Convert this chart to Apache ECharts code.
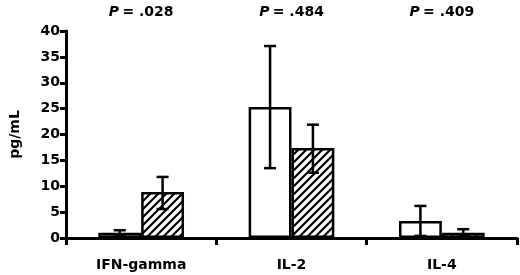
<!DOCTYPE html>
<html>
<head>
<meta charset="utf-8">
<script src="https://cdn.jsdelivr.net/npm/echarts@6/dist/echarts.min.js"></script>
<style>
  html, body { margin: 0; padding: 0; background: #fff; }
  #chart { width: 520px; height: 275px; }
</style>
</head>
<body>
<div id="chart"></div>
<script>
// cytokine levels, two groups per cytokine
var categories = ['IFN-gamma', 'IL-2', 'IL-4'];
var pLabels = ['.028', '.484', '.409'];
var yTicks = [0, 5, 10, 15, 20, 25, 30, 35, 40];

var openMean = [1.0, 25.3, 3.3];
var openLow = [0.5, 13.5, 0.4];
var openHigh = [1.5, 37.1, 6.2];

var hatchMean = [8.9, 17.4, 1.0];
var hatchLow = [5.6, 12.6, 0.3];
var hatchHigh = [11.8, 21.9, 1.7];

var FONT = '"DejaVu Sans", sans-serif';
var BAR_FRAC = 0.285;

// diagonal hatch fill
function makeHatch() {
  var c = document.createElement('canvas');
  c.width = 8; c.height = 8;
  var g = c.getContext('2d');
  g.fillStyle = '#fff';
  g.fillRect(0, 0, 8, 8);
  g.strokeStyle = '#000';
  g.lineWidth = 2.2;
  g.beginPath();
  g.moveTo(-1, 9); g.lineTo(9, -1);
  g.moveTo(-5, 5); g.lineTo(5, -5);
  g.moveTo(3, 13); g.lineTo(13, 3);
  g.stroke();
  return c;
}

function errorSeries(low, high, side) {
  var data = categories.map(function (c, i) { return [i, low[i], high[i]]; });
  return {
    type: 'custom',
    xAxisIndex: 0,
    z: 5,
    data: data,
    renderItem: function (params, api) {
      var band = api.size([1, 0])[0];
      var off = side * band * BAR_FRAC / 2;
      var top = api.coord([api.value(0), api.value(2)]);
      var bot = api.coord([api.value(0), api.value(1)]);
      var x = top[0] + off;
      var cap = 6;
      var st = { stroke: '#000', lineWidth: 2.5 };
      return {
        type: 'group',
        children: [
          { type: 'line', shape: { x1: x, y1: top[1], x2: x, y2: bot[1] }, style: st },
          { type: 'line', shape: { x1: x - cap, y1: top[1], x2: x + cap, y2: top[1] }, style: st },
          { type: 'line', shape: { x1: x - cap, y1: bot[1], x2: x + cap, y2: bot[1] }, style: st }
        ]
      };
    }
  };
}

var chart = echarts.init(document.getElementById('chart'));
chart.setOption({
  animation: false,
  grid: { left: 64, right: 3, top: 31, bottom: 37 },
  xAxis: [{
    type: 'category',
    data: categories,
    axisLine: { lineStyle: { color: '#000', width: 3 } },
    axisTick: { show: true, length: 7, lineStyle: { color: '#000', width: 3 } },
    axisLabel: { color: '#000', fontFamily: FONT, fontWeight: 'bold', fontSize: 14, margin: 20 }
  }, {
    type: 'category',
    position: 'top',
    data: pLabels,
    axisLine: { show: false },
    axisTick: { show: false },
    axisLabel: {
      margin: 12,
      formatter: function (v) { return '{p|P} {n|= ' + v + '}'; },
      rich: {
        p: { color: '#000', fontFamily: FONT, fontWeight: 'bold', fontStyle: 'italic', fontSize: 14 },
        n: { color: '#000', fontFamily: FONT, fontWeight: 'bold', fontSize: 14 }
      }
    }
  }],
  yAxis: {
    type: 'value',
    min: yTicks[0],
    max: yTicks[yTicks.length - 1],
    interval: 5,
    name: 'pg/mL',
    nameLocation: 'middle',
    nameGap: 44,
    nameTextStyle: { color: '#000', fontFamily: FONT, fontWeight: 'bold', fontSize: 14 },
    axisLine: { show: true, lineStyle: { color: '#000', width: 3 } },
    axisTick: { show: true, length: 6, lineStyle: { color: '#000', width: 3 } },
    axisLabel: { color: '#000', fontFamily: FONT, fontWeight: 'bold', fontSize: 14, margin: 6 },
    splitLine: { show: false }
  },
  series: [{
    type: 'bar',
    data: openMean,
    barWidth: (BAR_FRAC * 100) + '%',
    barGap: '0%',
    itemStyle: { color: '#fff', borderColor: '#000', borderWidth: 2.5 }
  }, {
    type: 'bar',
    data: hatchMean,
    barWidth: (BAR_FRAC * 100) + '%',
    barGap: '0%',
    itemStyle: { color: { image: makeHatch(), repeat: 'repeat' }, borderColor: '#000', borderWidth: 2.5 }
  },
  errorSeries(openLow, openHigh, -1),
  errorSeries(hatchLow, hatchHigh, 1)]
});
</script>
</body>
</html>
